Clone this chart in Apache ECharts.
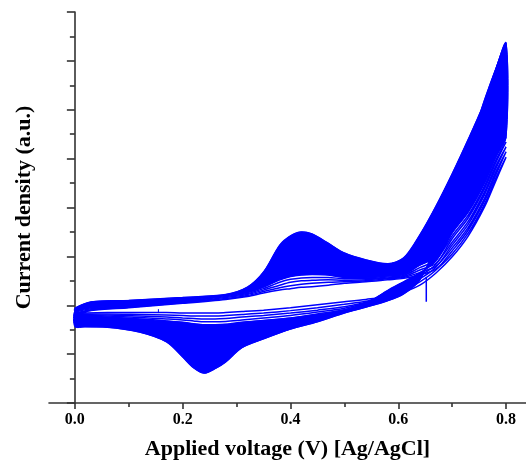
<!DOCTYPE html>
<html>
<head>
<meta charset="utf-8">
<script src="https://cdn.jsdelivr.net/npm/echarts@6/dist/echarts.min.js"></script>
<style>
  html, body { margin: 0; padding: 0; background: #ffffff; }
  #chart { width: 526px; height: 461px; }
</style>
</head>
<body>
<div id="chart"></div>
<script>
// Potential grids of the anodic (forward) and cathodic (reverse) sweeps, V vs Ag/AgCl
const voltageFwd = [0, 0.03, 0.1, 0.2, 0.28, 0.32, 0.35, 0.38, 0.40, 0.42, 0.44, 0.47, 0.50, 0.54, 0.58, 0.61, 0.64, 0.67, 0.70, 0.73, 0.76, 0.78, 0.80];
const voltageRev = [0.80, 0.78, 0.76, 0.73, 0.70, 0.67, 0.64, 0.61, 0.58, 0.54, 0.50, 0.45, 0.40, 0.35, 0.31, 0.28, 0.26, 0.24, 0.22, 0.20, 0.17, 0.12, 0.06, 0.02, 0];

// Current density (a.u.) of the first growth cycles, drawn one by one
const cycle1Fwd = [1.82, 1.89, 1.95, 2.04, 2.12, 2.18, 2.25, 2.31, 2.34, 2.37, 2.38, 2.41, 2.45, 2.48, 2.52, 2.55, 2.62, 2.74, 3.05, 3.48, 4.07, 4.58, 5.03];
const cycle1Rev = [5.03, 4.52, 4.01, 3.42, 2.99, 2.66, 2.41, 2.27, 2.18, 2.12, 2.07, 2.01, 1.95, 1.90, 1.87, 1.85, 1.84, 1.84, 1.84, 1.84, 1.85, 1.85, 1.85, 1.84, 1.82];
const cycle2Fwd = [1.83, 1.90, 1.96, 2.05, 2.14, 2.20, 2.28, 2.36, 2.40, 2.43, 2.45, 2.47, 2.48, 2.50, 2.54, 2.57, 2.67, 2.80, 3.17, 3.60, 4.19, 4.71, 5.14];
const cycle2Rev = [5.14, 4.64, 4.13, 3.54, 3.11, 2.72, 2.48, 2.32, 2.21, 2.08, 2.02, 1.95, 1.89, 1.84, 1.81, 1.79, 1.78, 1.78, 1.78, 1.79, 1.80, 1.81, 1.82, 1.82, 1.83];
const cycle3Fwd = [1.84, 1.91, 1.97, 2.06, 2.16, 2.22, 2.31, 2.41, 2.47, 2.50, 2.51, 2.52, 2.51, 2.52, 2.56, 2.59, 2.72, 2.86, 3.29, 3.72, 4.32, 4.83, 5.24];
const cycle3Rev = [5.24, 4.77, 4.26, 3.66, 3.23, 2.78, 2.54, 2.37, 2.24, 2.06, 1.97, 1.90, 1.84, 1.79, 1.76, 1.73, 1.72, 1.72, 1.73, 1.74, 1.76, 1.78, 1.80, 1.81, 1.84];
const cycle4Fwd = [1.86, 1.93, 1.98, 2.07, 2.18, 2.24, 2.34, 2.47, 2.53, 2.56, 2.57, 2.57, 2.54, 2.54, 2.58, 2.61, 2.77, 2.93, 3.42, 3.85, 4.44, 4.95, 5.34];
const cycle4Rev = [5.34, 4.89, 4.38, 3.79, 3.36, 2.84, 2.60, 2.42, 2.27, 2.05, 1.94, 1.86, 1.79, 1.74, 1.70, 1.67, 1.66, 1.66, 1.68, 1.70, 1.72, 1.75, 1.78, 1.80, 1.86];
const cycle5Fwd = [1.88, 1.95, 1.99, 2.08, 2.20, 2.26, 2.37, 2.52, 2.59, 2.62, 2.63, 2.62, 2.57, 2.56, 2.60, 2.63, 2.82, 2.99, 3.54, 3.97, 4.56, 5.07, 5.44];
const cycle5Rev = [5.44, 5.01, 4.50, 3.91, 3.48, 2.91, 2.66, 2.48, 2.30, 2.04, 1.91, 1.82, 1.74, 1.69, 1.65, 1.61, 1.60, 1.60, 1.62, 1.65, 1.68, 1.72, 1.76, 1.79, 1.88];

// Last recorded cycle; the densely packed later cycles fill the band between cycle 5 and this one
const lastFwd = [1.94, 2.07, 2.10, 2.16, 2.22, 2.37, 2.68, 3.23, 3.42, 3.50, 3.46, 3.27, 3.07, 2.93, 2.85, 2.97, 3.44, 4.03, 4.69, 5.40, 6.16, 6.81, 7.37];
const lastRev = [7.37, 6.81, 6.20, 5.18, 4.15, 3.23, 2.52, 2.23, 2.09, 1.96, 1.84, 1.66, 1.51, 1.31, 1.13, 0.84, 0.70, 0.61, 0.72, 0.94, 1.25, 1.45, 1.55, 1.56, 1.56];

// Short current spikes recorded during single sweeps
const spikeV = [0.652, 0.652];
const spikeI = [2.58, 2.07];
const glitchV = [0.155, 0.155];
const glitchI = [1.92, 1.84];

// Axis ticks
const xMajorTicks = [0, 0.2, 0.4, 0.6, 0.8];
const xMinorTicks = [0.1, 0.3, 0.5, 0.7];

const BLUE = '#0000ff';
const AXIS = '#333333';
const FONT = '"Liberation Serif", "Times New Roman", serif';
const X_MIN = -0.048;
const X_MAX = 0.837;

function cycleLoop(fwd, rev) {
  return voltageFwd.map((v, i) => [v, fwd[i]])
    .concat(voltageRev.slice(1).map((v, i) => [v, rev[i + 1]]));
}

// Filled band between two sweeps, mapped through the chart axes
function bandRenderer(outerV, outer, innerV, inner) {
  return function (params, api) {
    const pts = outerV.map((v, i) => api.coord([v, outer[i]]));
    for (let i = innerV.length - 1; i >= 0; i--) {
      pts.push(api.coord([innerV[i], inner[i]]));
    }
    return {
      type: 'polygon',
      shape: { points: pts, smooth: 0.3 },
      style: { fill: BLUE, stroke: BLUE, lineWidth: 1 },
      silent: true
    };
  };
}

function cycleSeries(fwd, rev, width) {
  return {
    type: 'line',
    data: cycleLoop(fwd, rev),
    symbol: 'none',
    smooth: 0.3,
    silent: true,
    z: 3,
    lineStyle: { color: BLUE, width: width }
  };
}

function segmentSeries(xs, ys, width) {
  return {
    type: 'line',
    data: xs.map((v, i) => [v, ys[i]]),
    symbol: 'none',
    silent: true,
    z: 4,
    lineStyle: { color: BLUE, width: width }
  };
}

const chart = echarts.init(document.getElementById('chart'), null, { renderer: 'canvas' });

chart.setOption({
  animation: false,
  backgroundColor: '#ffffff',
  grid: { left: 49, right: 0, top: 12, bottom: 58, containLabel: false, outerBoundsMode: 'none' },
  xAxis: [
    {
      type: 'value',
      min: X_MIN,
      max: X_MAX,
      position: 'bottom',
      name: 'Applied voltage (V) [Ag/AgCl]',
      nameLocation: 'middle',
      nameGap: 35,
      nameMoveOverlap: false,
      nameTextStyle: { fontFamily: FONT, fontWeight: 'bold', fontSize: 22, color: '#000' },
      axisLine: { show: true, lineStyle: { color: AXIS, width: 1.6 } },
      axisTick: { show: true, customValues: xMajorTicks, length: 6, inside: false, lineStyle: { color: AXIS, width: 1.6 } },
      axisLabel: {
        show: true,
        customValues: xMajorTicks,
        formatter: v => Number(v).toFixed(1),
        fontFamily: FONT, fontWeight: 'bold', fontSize: 16, color: '#000', margin: 9
      },
      splitLine: { show: false }
    },
    {
      type: 'value',
      min: X_MIN,
      max: X_MAX,
      position: 'bottom',
      axisLine: { show: false },
      axisTick: { show: true, customValues: xMinorTicks, length: 4, inside: false, lineStyle: { color: AXIS, width: 1.6 } },
      axisLabel: { show: false },
      splitLine: { show: false }
    }
  ],
  yAxis: {
    type: 'value',
    min: 0,
    max: 8,
    interval: 1,
    name: 'Current density (a.u.)',
    nameLocation: 'middle',
    nameGap: 14,
    nameMoveOverlap: false,
    nameTextStyle: { fontFamily: FONT, fontWeight: 'bold', fontSize: 22, color: '#000' },
    axisLine: { show: true, lineStyle: { color: AXIS, width: 1.6 } },
    axisTick: { show: true, inside: false, length: 8, lineStyle: { color: AXIS, width: 1.6 } },
    minorTick: { show: true, splitNumber: 2, length: 5, lineStyle: { color: AXIS, width: 1.6 } },
    axisLabel: { show: false },
    splitLine: { show: false },
    minorSplitLine: { show: false }
  },
  series: [
    { type: 'custom', renderItem: bandRenderer(voltageFwd, lastFwd, voltageFwd, cycle5Fwd), data: [[0, 0]], z: 1, silent: true },
    { type: 'custom', renderItem: bandRenderer(voltageRev, lastRev, voltageRev, cycle5Rev), data: [[0, 0]], z: 1, silent: true },
    cycleSeries(cycle1Fwd, cycle1Rev, 1.5),
    cycleSeries(cycle2Fwd, cycle2Rev, 1.5),
    cycleSeries(cycle3Fwd, cycle3Rev, 1.5),
    cycleSeries(cycle4Fwd, cycle4Rev, 1.5),
    cycleSeries(cycle5Fwd, cycle5Rev, 1.5),
    cycleSeries(lastFwd, lastRev, 1.3),
    segmentSeries(spikeV, spikeI, 1.5),
    segmentSeries(glitchV, glitchI, 1)
  ]
});
</script>
</body>
</html>
